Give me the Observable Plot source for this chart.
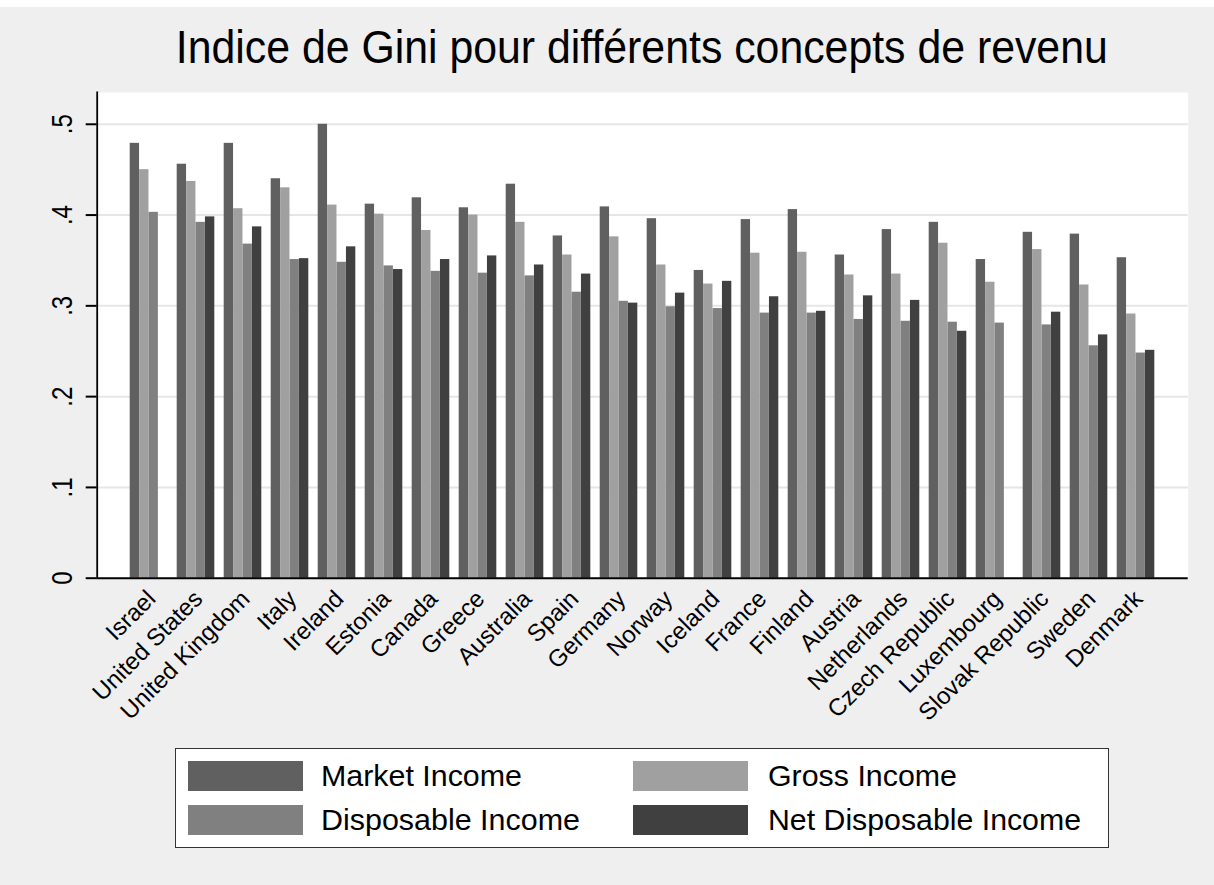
<!DOCTYPE html>
<html>
<head>
<meta charset="utf-8">
<script src="https://cdn.jsdelivr.net/npm/d3@7"></script>
<script src="https://cdn.jsdelivr.net/npm/@observablehq/plot@0.6"></script>
<style>
  html, body { margin: 0; padding: 0; background: #ffffff; }
  #page { position: relative; width: 1214px; height: 885px; background: #efefef; overflow: hidden;
          font-family: "Liberation Sans", Arial, sans-serif; color: #000; }
  #topstrip { position: absolute; left: 0; top: 0; width: 1214px; height: 7px; background: #ffffff; }
  #title { position: absolute; left: 96.7px; width: 1091px; top: 24px; text-align: center;
           font-size: 46px; line-height: 1; white-space: nowrap; }
  #title span { display: inline-block; transform-origin: center center; }
  #chart { position: absolute; left: 0; top: 80px; }
  #legend { position: absolute; left: 175px; top: 748px; width: 934px; height: 100px; box-sizing: border-box;
            border: 1.5px solid #333; background: #fff; }
  .sw { position: absolute; width: 115px; height: 30px; }
  .lt { position: absolute; font-size: 30px; line-height: 30px; white-space: nowrap; transform-origin: left center; }
</style>
</head>
<body>
<div id="page">
  <div id="topstrip"></div>
  <div id="title"><span data-w="932">Indice de Gini pour différents concepts de revenu</span></div>
  <div id="chart"></div>
  <div id="legend"></div>
</div>
<script>
// ---- data ----
const countries = ["Israel","United States","United Kingdom","Italy","Ireland","Estonia","Canada","Greece",
  "Australia","Spain","Germany","Norway","Iceland","France","Finland","Austria","Netherlands",
  "Czech Republic","Luxembourg","Slovak Republic","Sweden","Denmark"];
const marketIncome     = [0.479,0.456,0.479,0.440,0.500,0.412,0.419,0.408,0.434,0.377,0.409,0.396,0.339,0.395,0.406,0.356,0.384,0.392,0.351,0.381,0.379,0.353];
const grossIncome      = [0.450,0.437,0.407,0.430,0.411,0.401,0.383,0.400,0.392,0.356,0.376,0.345,0.324,0.358,0.359,0.334,0.335,0.369,0.326,0.362,0.323,0.291];
const disposableIncome = [0.403,0.392,0.368,0.351,0.348,0.344,0.338,0.336,0.333,0.315,0.305,0.299,0.297,0.292,0.292,0.285,0.283,0.282,0.281,0.279,0.256,0.248];
const netDisposable    = [null,0.398,0.387,0.352,0.365,0.340,0.351,0.355,0.345,0.335,0.303,0.314,0.327,0.310,0.294,0.311,0.306,0.272,null,0.293,0.268,0.251];
const seriesNames  = ["Market Income","Gross Income","Disposable Income","Net Disposable Income"];
const seriesKeys   = ["market","gross","disposable","net"];
const seriesColors = ["#606060","#a0a0a0","#808080","#404040"];
const yTicks       = [0, 0.1, 0.2, 0.3, 0.4, 0.5];
const yTickLabels  = ["0", ".1", ".2", ".3", ".4", ".5"];

const rows = countries.map((c, i) => ({
  country: c, market: marketIncome[i], gross: grossIncome[i],
  disposable: disposableIncome[i], net: netDisposable[i]
}));

// ---- layout ----
const W = 1214, H = 665;
const mL = 96.7, mR = 26.3, mT = 12, mB = 167.3;
const outerPad = 0.59;
const plotW = W - mL - mR;
const step = plotW / (countries.length + 2 * outerPad);
const barW = 9.42;
const pad = (step - 4 * barW) / 2;
const tickLen = 11;

const barMarks = seriesKeys.map((k, i) => Plot.barY(rows, {
  x: "country", y: k, fill: seriesColors[i],
  filter: d => d[k] != null,
  insetLeft: pad + i * barW,
  insetRight: step - pad - (i + 1) * barW
}));

const chart = Plot.plot({
  width: W, height: H,
  marginLeft: mL, marginRight: mR, marginTop: mT, marginBottom: mB,
  style: { background: "transparent", fontFamily: "'Liberation Sans', Arial, sans-serif", color: "#000", overflow: "visible" },
  x: { type: "band", domain: countries, paddingInner: 0, paddingOuter: outerPad, axis: null },
  y: { domain: [0, 0.535], axis: null },
  marks: [
    Plot.frame({ fill: "#ffffff", stroke: "none" }),
    Plot.ruleY(yTicks.slice(1), { stroke: "#e6e6e6", strokeWidth: 2 }),
    ...barMarks,
    Plot.ruleY([0], { stroke: "#000", strokeWidth: 2 }),
    // y-axis ticks (outside the frame, to the left)
    Plot.ruleY(yTicks, { insetLeft: -tickLen, insetRight: plotW, stroke: "#000", strokeWidth: 2 }),
    Plot.frame({ anchor: "left", stroke: "#000", strokeWidth: 1.8 }),
    Plot.text(yTicks, {
      y: d => d, text: (d, i) => yTickLabels[i], frameAnchor: "left",
      rotate: -90, textAnchor: "middle", lineAnchor: "bottom", dx: -25, fontSize: 30, fill: "#000"
    }),
    Plot.text(countries, {
      x: d => d, text: d => d, frameAnchor: "bottom", rotate: -45,
      textAnchor: "end", lineAnchor: "top", dx: -4, dy: 10, fontSize: 24, fill: "#000"
    })
  ]
});
document.getElementById("chart").appendChild(chart);

// narrower glyphs for the rotated y tick labels (condensed look of the original)
const textGroups = chart.querySelectorAll('g[aria-label="text"]');
if (textGroups.length) {
  textGroups[0].querySelectorAll("text").forEach(t => {
    const tr = t.getAttribute("transform") || "";
    t.setAttribute("transform", tr + " scale(0.8,1)");
  });
}

// ---- legend ----
const legend = document.getElementById("legend");
const legPos = [
  { sx: 11.8, tx: 145.2, y: 12.2 },
  { sx: 457.1, tx: 592.0, y: 12.2 },
  { sx: 11.8, tx: 145.2, y: 55.5 },
  { sx: 457.1, tx: 592.0, y: 55.5 }
];
const legW = [201, 189, 259, 313];
seriesNames.forEach((name, i) => {
  const p = legPos[i];
  const sw = document.createElement("div");
  sw.className = "sw";
  sw.style.left = p.sx + "px"; sw.style.top = p.y + "px";
  sw.style.background = seriesColors[i];
  legend.appendChild(sw);
  const t = document.createElement("div");
  t.className = "lt";
  t.style.left = p.tx + "px"; t.style.top = p.y + "px";
  t.textContent = name;
  t.dataset.w = legW[i];
  legend.appendChild(t);
});

// fit text widths
document.querySelectorAll("[data-w]").forEach(el => {
  const natural = el.getBoundingClientRect().width;
  const s = (+el.dataset.w) / natural;
  el.style.transform = `scaleX(${s})`;
});
</script>
</body>
</html>
